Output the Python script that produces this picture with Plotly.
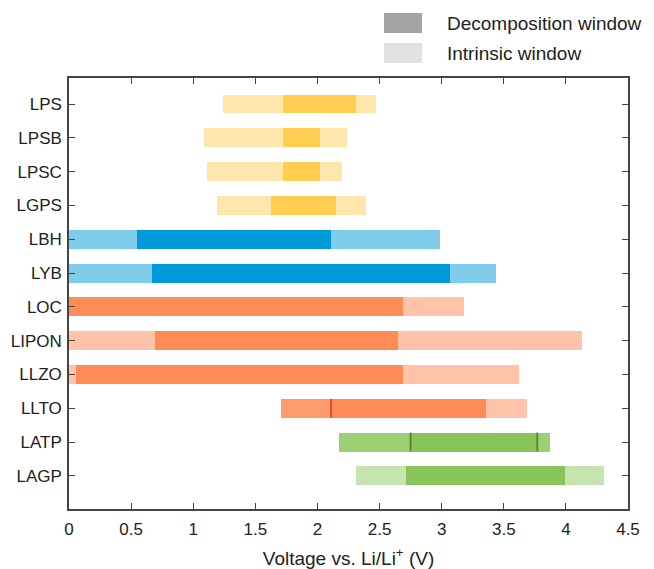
import plotly.graph_objects as go

# ---- data ----
materials = ["LPS", "LPSB", "LPSC", "LGPS", "LBH", "LYB", "LOC", "LIPON", "LLZO", "LLTO", "LATP", "LAGP"]
intrinsic_lo = [1.24, 1.09, 1.11, 1.19, 0.0, 0.0, 0.0, 0.0, 0.0, 1.71, 2.17, 2.31]
intrinsic_hi = [2.47, 2.24, 2.20, 2.39, 2.99, 3.44, 3.18, 4.13, 3.62, 3.69, 3.87, 4.31]
decomp_lo = [1.72, 1.72, 1.72, 1.63, 0.55, 0.67, 0.0, 0.69, 0.06, 2.11, 2.75, 2.71]
decomp_hi = [2.31, 2.02, 2.02, 2.15, 2.11, 3.07, 2.69, 2.65, 2.69, 3.36, 3.77, 3.99]
# extra mid-tone segment (LLTO)
mid_material = ["LLTO"]
mid_lo = [1.71]
mid_hi = [2.11]
# marker lines at decomposition boundaries
marker_material = ["LLTO", "LATP", "LATP"]
marker_v = [2.11, 2.75, 3.77]
x_ticks = [0, 0.5, 1, 1.5, 2, 2.5, 3, 3.5, 4, 4.5]

# ---- styles ----
light = {"LPS": "#FFE6AC", "LPSB": "#FFE6AC", "LPSC": "#FFE6AC", "LGPS": "#FFE6AC",
         "LBH": "#80CCEB", "LYB": "#80CCEB",
         "LOC": "#FFC3AA", "LIPON": "#FFC3AA", "LLZO": "#FFC3AA", "LLTO": "#FFC3AA",
         "LATP": "#9DCF75", "LAGP": "#C6E4B0"}
dark = {"LPS": "#FFCD4F", "LPSB": "#FFCD4F", "LPSC": "#FFCD4F", "LGPS": "#FFCD4F",
        "LBH": "#0099D9", "LYB": "#0099D9",
        "LOC": "#FF8B56", "LIPON": "#FF8B56", "LLZO": "#FF8B56", "LLTO": "#FF8B56",
        "LATP": "#88C45A", "LAGP": "#88C45A"}
mid_color = {"LLTO": "#FF9A6D"}
line_color = {"LLTO": "#D84A2A", "LATP": "#5B8A2E"}
BW = 0.56
FONT = "Liberation Sans, Arial, sans-serif"

ypos = {m: i for i, m in enumerate(materials)}
fig = go.Figure()

fig.add_trace(go.Bar(
    y=[ypos[m] for m in materials],
    x=[h - l for l, h in zip(intrinsic_lo, intrinsic_hi)],
    base=intrinsic_lo, orientation="h", width=BW,
    marker=dict(color=[light[m] for m in materials], line=dict(width=0)),
    showlegend=False, hoverinfo="skip"))

fig.add_trace(go.Bar(
    y=[ypos[m] for m in mid_material],
    x=[h - l for l, h in zip(mid_lo, mid_hi)],
    base=mid_lo, orientation="h", width=BW,
    marker=dict(color=[mid_color[m] for m in mid_material], line=dict(width=0)),
    showlegend=False, hoverinfo="skip"))

fig.add_trace(go.Bar(
    y=[ypos[m] for m in materials],
    x=[h - l for l, h in zip(decomp_lo, decomp_hi)],
    base=decomp_lo, orientation="h", width=BW,
    marker=dict(color=[dark[m] for m in materials], line=dict(width=0)),
    showlegend=False, hoverinfo="skip"))

for m, v in zip(marker_material, marker_v):
    fig.add_trace(go.Scatter(
        x=[v, v], y=[ypos[m] - BW / 2, ypos[m] + BW / 2], mode="lines",
        line=dict(color=line_color[m], width=2), showlegend=False, hoverinfo="skip"))

# manual legend (outside the plot area, top right)
legend_items = [("Decomposition window", "#A3A3A3", 1.1044, 1.1508, 1.1276),
                ("Intrinsic window", "#E1E1E1", 1.0348, 1.0812, 1.058)]
for name, col, y0, y1, yt in legend_items:
    fig.add_shape(type="rect", xref="paper", yref="paper",
                  x0=0.5635, x1=0.6315, y0=y0, y1=y1,
                  fillcolor=col, line=dict(width=0))
    fig.add_annotation(xref="paper", yref="paper", x=0.672, y=yt, text=name,
                       showarrow=False, xanchor="left", yanchor="middle",
                       font=dict(family=FONT, size=19, color="#222"))

axis_common = dict(showline=True, linecolor="#444", linewidth=1.5, mirror="ticks",
                   ticks="inside", ticklen=6, tickwidth=1.3, tickcolor="#444",
                   showgrid=False, zeroline=False,
                   tickfont=dict(family=FONT, size=17, color="#222"))

fig.update_layout(
    width=654, height=569,
    margin=dict(l=61, r=34, t=70, b=68),
    paper_bgcolor="white", plot_bgcolor="white",
    barmode="overlay", bargap=0,
    xaxis=dict(range=[0, 4.5], tickvals=x_ticks, ticktext=[f"{t:g}" for t in x_ticks],
               ticklabelstandoff=4, automargin=False,
               title=dict(text="Voltage vs. Li/Li<sup>+</sup> (V)", standoff=14,
                          font=dict(family=FONT, size=19, color="#222")),
               **axis_common),
    yaxis=dict(range=[11.98, -0.77], tickvals=list(range(len(materials))),
               ticktext=materials, ticklabelstandoff=2, automargin=False, **axis_common),
)

fig.write_html("out.html")
